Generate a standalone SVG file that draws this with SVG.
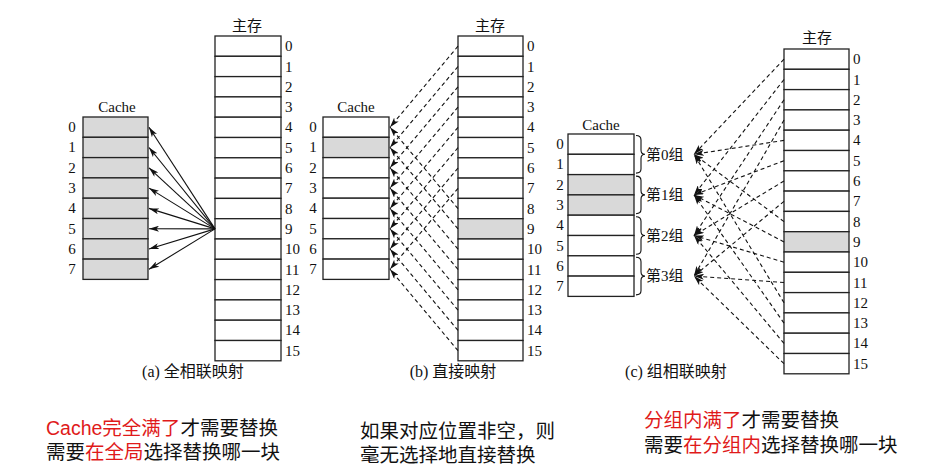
<svg xmlns="http://www.w3.org/2000/svg" width="937" height="470" viewBox="0 0 937 470">
<style>
.cell{fill:#fff;stroke:#222;stroke-width:1.3}
.g{fill:#d9d9d9}
.num{font-family:"Liberation Serif","Noto Sans CJK SC",serif;font-size:15px;fill:#111}
.cn{font-family:"Liberation Serif","Noto Sans CJK SC",serif;font-size:15px;fill:#111}
.cap{font-family:"Liberation Serif","Noto Sans CJK SC",serif;font-size:16px;fill:#111;text-anchor:middle}
.mid{text-anchor:middle}
.sol{stroke:#111;stroke-width:1.1;fill:none;marker-end:url(#ah)}
.dash{stroke:#111;stroke-width:1.1;fill:none;stroke-dasharray:4 3;marker-end:url(#ah)}
.br{stroke:#111;stroke-width:1.1;fill:none}
.note{font-family:"Liberation Sans","Noto Sans CJK SC",sans-serif;font-size:19.5px;fill:#111}
.red{fill:#e01a1a}
</style>
<defs>
<marker id="ah" viewBox="0 0 10 6" refX="10" refY="3" markerWidth="10" markerHeight="6" markerUnits="userSpaceOnUse" orient="auto"><path d="M0,0 L10,3 L0,6 L2.5,3 z" fill="#111"/></marker>
</defs>

<!-- Panel (a) -->
<g id="cache-a">
<text class="cn mid" x="117" y="112">Cache</text>
<rect class="cell g" x="83" y="117" width="65" height="20.3"/>
<rect class="cell g" x="83" y="137.3" width="65" height="20.3"/>
<rect class="cell g" x="83" y="157.6" width="65" height="20.3"/>
<rect class="cell g" x="83" y="177.9" width="65" height="20.3"/>
<rect class="cell g" x="83" y="198.2" width="65" height="20.3"/>
<rect class="cell g" x="83" y="218.5" width="65" height="20.3"/>
<rect class="cell g" x="83" y="238.8" width="65" height="20.3"/>
<rect class="cell g" x="83" y="259.1" width="65" height="20.3"/>
<g class="num mid">
<text x="72" y="132">0</text><text x="72" y="152.3">1</text><text x="72" y="172.6">2</text><text x="72" y="192.9">3</text>
<text x="72" y="213.2">4</text><text x="72" y="233.5">5</text><text x="72" y="253.8">6</text><text x="72" y="274.1">7</text>
</g>
</g>
<g id="mem-a">
<text class="cn mid" x="247" y="31">主存</text>
<rect class="cell" x="215" y="36" width="66" height="20.3"/>
<rect class="cell" x="215" y="56.3" width="66" height="20.3"/>
<rect class="cell" x="215" y="76.6" width="66" height="20.3"/>
<rect class="cell" x="215" y="96.9" width="66" height="20.3"/>
<rect class="cell" x="215" y="117.2" width="66" height="20.3"/>
<rect class="cell" x="215" y="137.5" width="66" height="20.3"/>
<rect class="cell" x="215" y="157.8" width="66" height="20.3"/>
<rect class="cell" x="215" y="178.1" width="66" height="20.3"/>
<rect class="cell" x="215" y="198.4" width="66" height="20.3"/>
<rect class="cell" x="215" y="218.7" width="66" height="20.3"/>
<rect class="cell" x="215" y="239" width="66" height="20.3"/>
<rect class="cell" x="215" y="259.3" width="66" height="20.3"/>
<rect class="cell" x="215" y="279.6" width="66" height="20.3"/>
<rect class="cell" x="215" y="299.9" width="66" height="20.3"/>
<rect class="cell" x="215" y="320.2" width="66" height="20.3"/>
<rect class="cell" x="215" y="340.5" width="66" height="20.3"/>
<g class="num">
<text x="285" y="51.2">0</text><text x="285" y="71.5">1</text><text x="285" y="91.8">2</text><text x="285" y="112.1">3</text>
<text x="285" y="132.4">4</text><text x="285" y="152.7">5</text><text x="285" y="173">6</text><text x="285" y="193.3">7</text>
<text x="285" y="213.6">8</text><text x="285" y="233.9">9</text><text x="285" y="254.2">10</text><text x="285" y="274.5">11</text>
<text x="285" y="294.8">12</text><text x="285" y="315.1">13</text><text x="285" y="335.4">14</text><text x="285" y="355.7">15</text>
</g>
</g>
<text id="cap-a" class="cap" x="193" y="377">(a) 全相联映射</text>

<!-- Panel (b) -->
<g id="cache-b">
<text class="cn mid" x="356" y="112">Cache</text>
<rect class="cell" x="323" y="117" width="66" height="20.3"/>
<rect class="cell g" x="323" y="137.3" width="66" height="20.3"/>
<rect class="cell" x="323" y="157.6" width="66" height="20.3"/>
<rect class="cell" x="323" y="177.9" width="66" height="20.3"/>
<rect class="cell" x="323" y="198.2" width="66" height="20.3"/>
<rect class="cell" x="323" y="218.5" width="66" height="20.3"/>
<rect class="cell" x="323" y="238.8" width="66" height="20.3"/>
<rect class="cell" x="323" y="259.1" width="66" height="20.3"/>
<g class="num mid">
<text x="313" y="132">0</text><text x="313" y="152.3">1</text><text x="313" y="172.6">2</text><text x="313" y="192.9">3</text>
<text x="313" y="213.2">4</text><text x="313" y="233.5">5</text><text x="313" y="253.8">6</text><text x="313" y="274.1">7</text>
</g>
</g>
<g id="mem-b">
<text class="cn mid" x="490" y="31">主存</text>
<rect class="cell" x="458" y="36" width="65" height="20.3"/>
<rect class="cell" x="458" y="56.3" width="65" height="20.3"/>
<rect class="cell" x="458" y="76.6" width="65" height="20.3"/>
<rect class="cell" x="458" y="96.9" width="65" height="20.3"/>
<rect class="cell" x="458" y="117.2" width="65" height="20.3"/>
<rect class="cell" x="458" y="137.5" width="65" height="20.3"/>
<rect class="cell" x="458" y="157.8" width="65" height="20.3"/>
<rect class="cell" x="458" y="178.1" width="65" height="20.3"/>
<rect class="cell" x="458" y="198.4" width="65" height="20.3"/>
<rect class="cell g" x="458" y="218.7" width="65" height="20.3"/>
<rect class="cell" x="458" y="239" width="65" height="20.3"/>
<rect class="cell" x="458" y="259.3" width="65" height="20.3"/>
<rect class="cell" x="458" y="279.6" width="65" height="20.3"/>
<rect class="cell" x="458" y="299.9" width="65" height="20.3"/>
<rect class="cell" x="458" y="320.2" width="65" height="20.3"/>
<rect class="cell" x="458" y="340.5" width="65" height="20.3"/>
<g class="num">
<text x="527" y="51.2">0</text><text x="527" y="71.5">1</text><text x="527" y="91.8">2</text><text x="527" y="112.1">3</text>
<text x="527" y="132.4">4</text><text x="527" y="152.7">5</text><text x="527" y="173">6</text><text x="527" y="193.3">7</text>
<text x="527" y="213.6">8</text><text x="527" y="233.9">9</text><text x="527" y="254.2">10</text><text x="527" y="274.5">11</text>
<text x="527" y="294.8">12</text><text x="527" y="315.1">13</text><text x="527" y="335.4">14</text><text x="527" y="355.7">15</text>
</g>
</g>
<text id="cap-b" class="cap" x="453" y="377">(b) 直接映射</text>

<!-- Panel (c) -->
<g id="cache-c">
<text class="cn mid" x="601" y="130">Cache</text>
<rect class="cell" x="568" y="134" width="66" height="20.3"/>
<rect class="cell" x="568" y="154.3" width="66" height="20.3"/>
<rect class="cell g" x="568" y="174.6" width="66" height="20.3"/>
<rect class="cell g" x="568" y="194.9" width="66" height="20.3"/>
<rect class="cell" x="568" y="215.2" width="66" height="20.3"/>
<rect class="cell" x="568" y="235.5" width="66" height="20.3"/>
<rect class="cell" x="568" y="255.8" width="66" height="20.3"/>
<rect class="cell" x="568" y="276.1" width="66" height="20.3"/>
<g class="num mid">
<text x="560" y="149">0</text><text x="560" y="169.3">1</text><text x="560" y="189.6">2</text><text x="560" y="209.9">3</text>
<text x="560" y="230.2">4</text><text x="560" y="250.5">5</text><text x="560" y="270.8">6</text><text x="560" y="291.1">7</text>
</g>
</g>
<g id="group0">
<path class="br" d="M636,135.5 Q641,135.5 641,140 L641,150 Q641,154.3 645,154.3 Q641,154.3 641,158.6 L641,169 Q641,173.1 636,173.1"/>
<text class="cn" x="646" y="159.5">第0组</text>
</g>
<g id="group1">
<path class="br" d="M636,176.1 Q641,176.1 641,180.6 L641,190.6 Q641,194.9 645,194.9 Q641,194.9 641,199.2 L641,209.6 Q641,213.7 636,213.7"/>
<text class="cn" x="646" y="200.1">第1组</text>
</g>
<g id="group2">
<path class="br" d="M636,216.7 Q641,216.7 641,221.2 L641,231.2 Q641,235.5 645,235.5 Q641,235.5 641,239.8 L641,250.2 Q641,254.3 636,254.3"/>
<text class="cn" x="646" y="240.7">第2组</text>
</g>
<g id="group3">
<path class="br" d="M636,257.3 Q641,257.3 641,261.8 L641,271.8 Q641,276.1 645,276.1 Q641,276.1 641,280.4 L641,290.8 Q641,294.9 636,294.9"/>
<text class="cn" x="646" y="281.3">第3组</text>
</g>
<g id="mem-c">
<text class="cn mid" x="817" y="43">主存</text>
<rect class="cell" x="784" y="49" width="65" height="20.3"/>
<rect class="cell" x="784" y="69.3" width="65" height="20.3"/>
<rect class="cell" x="784" y="89.6" width="65" height="20.3"/>
<rect class="cell" x="784" y="109.9" width="65" height="20.3"/>
<rect class="cell" x="784" y="130.2" width="65" height="20.3"/>
<rect class="cell" x="784" y="150.5" width="65" height="20.3"/>
<rect class="cell" x="784" y="170.8" width="65" height="20.3"/>
<rect class="cell" x="784" y="191.1" width="65" height="20.3"/>
<rect class="cell" x="784" y="211.4" width="65" height="20.3"/>
<rect class="cell g" x="784" y="231.7" width="65" height="20.3"/>
<rect class="cell" x="784" y="252" width="65" height="20.3"/>
<rect class="cell" x="784" y="272.3" width="65" height="20.3"/>
<rect class="cell" x="784" y="292.6" width="65" height="20.3"/>
<rect class="cell" x="784" y="312.9" width="65" height="20.3"/>
<rect class="cell" x="784" y="333.2" width="65" height="20.3"/>
<rect class="cell" x="784" y="353.5" width="65" height="20.3"/>
<g class="num">
<text x="853" y="64.2">0</text><text x="853" y="84.5">1</text><text x="853" y="104.8">2</text><text x="853" y="125.1">3</text>
<text x="853" y="145.4">4</text><text x="853" y="165.7">5</text><text x="853" y="186">6</text><text x="853" y="206.3">7</text>
<text x="853" y="226.6">8</text><text x="853" y="246.9">9</text><text x="853" y="267.2">10</text><text x="853" y="287.5">11</text>
<text x="853" y="307.8">12</text><text x="853" y="328.1">13</text><text x="853" y="348.4">14</text><text x="853" y="368.7">15</text>
</g>
</g>
<text id="cap-c" class="cap" x="676" y="377">(c) 组相联映射</text>

<!-- Connectors -->
<g id="connectors">
<g id="conn-a">
<path class="sol" d="M215,228.9 L149,127.2"/>
<path class="sol" d="M215,228.9 L149,147.5"/>
<path class="sol" d="M215,228.9 L149,167.8"/>
<path class="sol" d="M215,228.9 L149,188.1"/>
<path class="sol" d="M215,228.9 L149,208.4"/>
<path class="sol" d="M215,228.9 L149,228.7"/>
<path class="sol" d="M215,228.9 L149,249"/>
<path class="sol" d="M215,228.9 L149,269.3"/>
</g>
<g id="conn-b">
<path class="dash" d="M458,46.2 L390,127.2"/>
<path class="dash" d="M458,66.5 L390,147.5"/>
<path class="dash" d="M458,86.8 L390,167.8"/>
<path class="dash" d="M458,107.1 L390,188.1"/>
<path class="dash" d="M458,127.4 L390,208.4"/>
<path class="dash" d="M458,147.7 L390,228.7"/>
<path class="dash" d="M458,168 L390,249"/>
<path class="dash" d="M458,188.3 L390,269.3"/>
<path class="dash" d="M458,208.6 L390,127.2"/>
<path class="dash" d="M458,228.9 L390,147.5"/>
<path class="dash" d="M458,249.2 L390,167.8"/>
<path class="dash" d="M458,269.5 L390,188.1"/>
<path class="dash" d="M458,289.8 L390,208.4"/>
<path class="dash" d="M458,310.1 L390,228.7"/>
<path class="dash" d="M458,330.4 L390,249"/>
<path class="dash" d="M458,350.7 L390,269.3"/>
</g>
<g id="conn-c">
<path class="dash" d="M784,59.2 L694,154.3"/>
<path class="dash" d="M784,79.5 L694,194.9"/>
<path class="dash" d="M784,99.8 L694,235.5"/>
<path class="dash" d="M784,120.1 L694,276.1"/>
<path class="dash" d="M784,140.4 L694,154.3"/>
<path class="dash" d="M784,160.7 L694,194.9"/>
<path class="dash" d="M784,181 L694,235.5"/>
<path class="dash" d="M784,201.3 L694,276.1"/>
<path class="dash" d="M784,221.6 L694,154.3"/>
<path class="dash" d="M784,241.9 L694,194.9"/>
<path class="dash" d="M784,262.2 L694,235.5"/>
<path class="dash" d="M784,282.5 L694,276.1"/>
<path class="dash" d="M784,302.8 L694,154.3"/>
<path class="dash" d="M784,323.1 L694,194.9"/>
<path class="dash" d="M784,343.4 L694,235.5"/>
<path class="dash" d="M784,363.7 L694,276.1"/>
</g>
</g>

<!-- Notes -->
<g id="note-a" class="note">
<text x="46" y="435"><tspan class="red">Cache完全满了</tspan>才需要替换</text>
<text x="46" y="459">需要<tspan class="red">在全局</tspan>选择替换哪一块</text>
</g>
<g id="note-b" class="note">
<text x="360" y="438">如果对应位置非空，则</text>
<text x="360" y="462">毫无选择地直接替换</text>
</g>
<g id="note-c" class="note">
<text x="644" y="427"><tspan class="red">分组内满了</tspan>才需要替换</text>
<text x="644" y="452">需要<tspan class="red">在分组内</tspan>选择替换哪一块</text>
</g>
</svg>
